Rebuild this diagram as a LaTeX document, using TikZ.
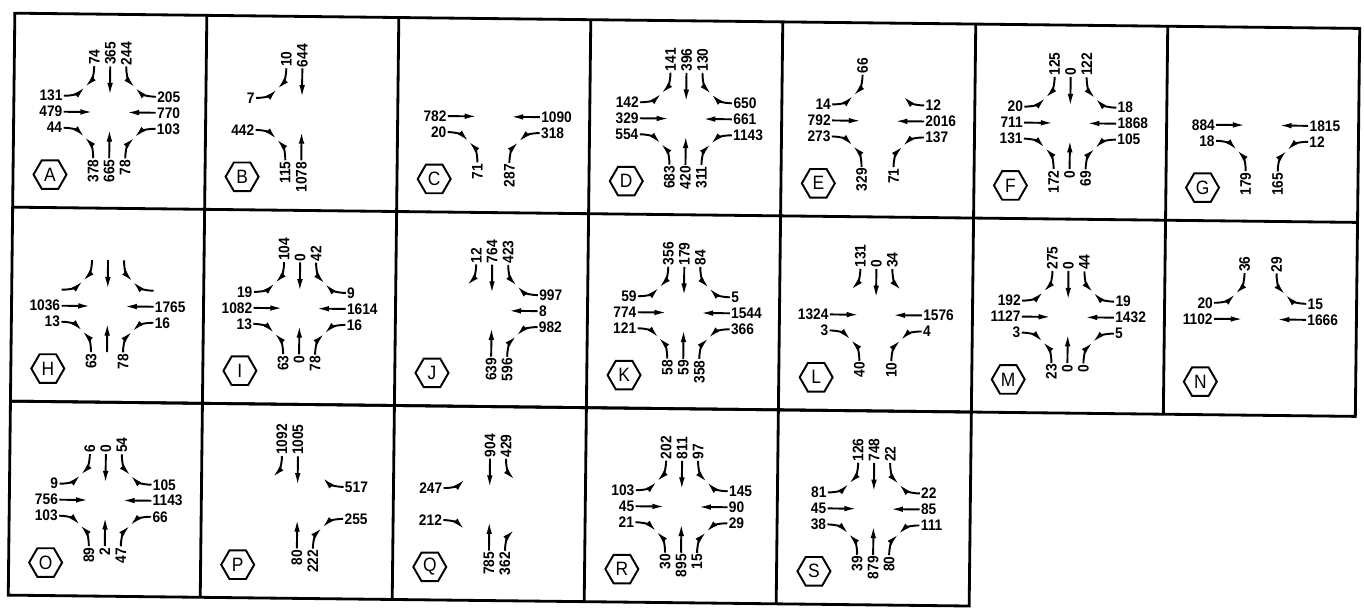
\documentclass[tikz,border=0pt]{standalone}
\usepackage{fontspec}
\setmainfont{Liberation Sans}[FakeStretch=0.9]
\usepackage{ifthen}
\usepackage{tikz}
\usetikzlibrary{arrows.meta,shapes.geometric}
% draw a movement only when its count is not '-'
\newcommand{\ifmove}[2]{\ifthenelse{\equal{#1}{-}}{}{#2}}

\begin{document}
\begin{tikzpicture}[x=0.02cm,y=0.02cm,font=\fontsize{8.7}{9}\selectfont\bfseries,
  >={Latex[length=7pt,width=3.2pt]},
  grid/.style={line width=1.6pt},
  mov/.style={->,line width=1.1pt},
  cnt/.style={inner sep=0.6pt},
  cntv/.style={cnt,rotate=90},
  hexa/.style={draw,line width=1.1pt,regular polygon,regular polygon sides=6,
    minimum size=0.66cm,inner sep=0pt,font=\fontsize{11}{11}\selectfont}]
\useasboundingbox (0,0) rectangle (1364,-613);
\begin{scope}[rotate=-0.65]
% the frame of the sheet
\draw[grid] (15,-13) rectangle (1360,-401);
\draw[grid] (15,-401) rectangle (976,-595);
\draw[grid] (15,-207) -- (1360,-207);
\foreach \x in {207,399,591,783,976,1168} \draw[grid] (\x,-13) -- (\x,-401);
\foreach \x in {207,399,591,783} \draw[grid] (\x,-401) -- (\x,-595);
% one panel per intersection
% counts: N left/thru/right, W up/thru/low, E up/thru/low, S left/thru/right
\foreach \pid/\pcol/\prow/\mnl/\mnt/\mnr/\mwu/\mwt/\mwl/\meu/\met/\mel/\msl/\mst/\msr in {
  A/0/0/74/365/244/131/479/44/205/770/103/378/665/78,
  B/1/0/10/644/-/7/-/442/-/-/-/115/1078/-,
  C/2/0/-/-/-/-/782/20/-/1090/318/71/-/287,
  D/3/0/141/396/130/142/329/554/650/661/1143/683/420/311,
  E/4/0/66/-/-/14/792/273/12/2016/137/329/-/71,
  F/5/0/125/0/122/20/711/131/18/1868/105/172/0/69,
  G/6/0/-/-/-/-/884/18/-/1815/12/179/-/165,
  H/0/1/{}/{}/{}/{}/1036/13/{}/1765/16/63/{}/78,
  I/1/1/104/0/42/19/1082/13/9/1614/16/63/0/78,
  J/2/1/12/764/423/-/-/-/997/8/982/-/639/596,
  K/3/1/356/179/84/59/774/121/5/1544/366/58/59/358,
  L/4/1/131/0/34/-/1324/3/-/1576/4/40/-/10,
  M/5/1/275/0/44/192/1127/3/19/1432/5/23/0/0,
  N/6/1/36/-/29/20/1102/-/15/1666/-/-/-/-,
  O/0/2/6/0/54/9/756/103/105/1143/66/89/2/47,
  P/1/2/1092/1005/-/-/-/-/517/-/255/-/80/222,
  Q/2/2/-/904/429/247/-/212/-/-/-/-/785/362,
  R/3/2/202/811/97/103/45/21/145/90/29/30/895/15,
  S/4/2/126/748/22/81/45/38/22/85/111/39/879/80}
{
\begin{scope}[shift={(111+192.1*\pcol,-111-194*\prow)}]
  \node[hexa] (\pid-hex) at (-59,-63) {\pid};
  \coordinate (\pid-nw) at (-25,25); \coordinate (\pid-ne) at (25,25);
  \coordinate (\pid-sw) at (-25,-25); \coordinate (\pid-se) at (25,-25);
  \coordinate (\pid-tn) at (0,17); \coordinate (\pid-ts) at (0,-17);
  \coordinate (\pid-tw) at (-17,0); \coordinate (\pid-te) at (17,0);
  % north approach
  \ifmove{\mnl}{\node[cntv,anchor=west] (\pid-nl) at (-16,46) {\mnl};
    \draw[mov] (\pid-nl.west) to[out=-90,in=45] (\pid-nw);}
  \ifmove{\mnt}{\node[cntv,anchor=west] (\pid-nt) at (0,46) {\mnt};
    \draw[mov] (\pid-nt.west) -- (\pid-tn);}
  \ifmove{\mnr}{\node[cntv,anchor=west] (\pid-nr) at (16,46) {\mnr};
    \draw[mov] (\pid-nr.west) to[out=-90,in=135] (\pid-ne);}
  % west approach
  \ifmove{\mwu}{\node[cnt,anchor=east] (\pid-wu) at (-46,16) {\mwu};
    \draw[mov] (\pid-wu.east) to[out=0,in=-135] (\pid-nw);}
  \ifmove{\mwt}{\node[cnt,anchor=east] (\pid-wt) at (-46,0) {\mwt};
    \draw[mov] (\pid-wt.east) -- (\pid-tw);}
  \ifmove{\mwl}{\node[cnt,anchor=east] (\pid-wl) at (-46,-16) {\mwl};
    \draw[mov] (\pid-wl.east) to[out=0,in=135] (\pid-sw);}
  % east approach
  \ifmove{\meu}{\node[cnt,anchor=west] (\pid-eu) at (46,16) {\meu};
    \draw[mov] (\pid-eu.west) to[out=180,in=-45] (\pid-ne);}
  \ifmove{\met}{\node[cnt,anchor=west] (\pid-et) at (46,0) {\met};
    \draw[mov] (\pid-et.west) -- (\pid-te);}
  \ifmove{\mel}{\node[cnt,anchor=west] (\pid-el) at (46,-16) {\mel};
    \draw[mov] (\pid-el.west) to[out=180,in=45] (\pid-se);}
  % south approach
  \ifmove{\msl}{\node[cntv,anchor=east] (\pid-sl) at (-16,-46) {\msl};
    \draw[mov] (\pid-sl.east) to[out=90,in=-45] (\pid-sw);}
  \ifmove{\mst}{\node[cntv,anchor=east] (\pid-st) at (0,-46) {\mst};
    \draw[mov] (\pid-st.east) -- (\pid-ts);}
  \ifmove{\msr}{\node[cntv,anchor=east] (\pid-sr) at (16,-46) {\msr};
    \draw[mov] (\pid-sr.east) to[out=90,in=-135] (\pid-se);}
\end{scope}
}
\end{scope}
\end{tikzpicture}
\end{document}
